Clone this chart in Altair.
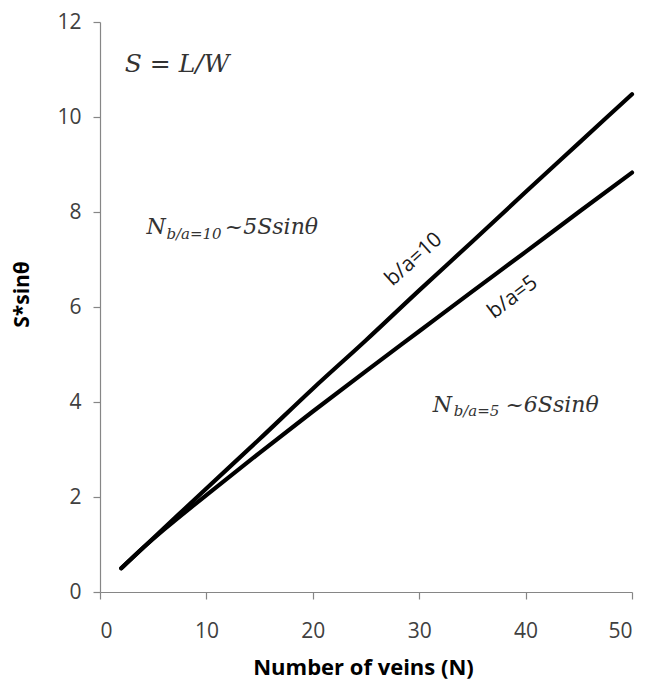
import altair as alt
import pandas as pd

# ---- data ----
veins = [2, 4, 6, 10, 15, 20, 25, 30, 35, 40, 45, 50]
s_ba10 = [0.5, 0.92, 1.34, 2.18, 3.22, 4.28, 5.30, 6.35, 7.38, 8.42, 9.45, 10.48]
s_ba5 = [0.5, 0.92, 1.31, 2.04, 2.93, 3.80, 4.65, 5.49, 6.33, 7.16, 8.00, 8.83]

x_ticks = [0, 10, 20, 30, 40, 50]
y_ticks = [0, 2, 4, 6, 8, 10, 12]

line_labels = ["b/a=10", "b/a=5"]
line_label_x = [29.5, 38.8]
line_label_y = [7.0, 6.2]

# formula pieces
main_text = ["S = L/W"]
main_x = [2.33]
main_y = [10.94]

big_text = ["N", "~5Ssinθ", "N", "~6Ssinθ"]
big_x = [4.38, 11.73, 31.28, 38.1]
big_y = [7.54, 7.54, 3.79, 3.79]

sub_text = ["b/a=10", "b/a=5"]
sub_x = [6.24, 33.24]
sub_y = [7.44, 3.71]

df = pd.concat([
    pd.DataFrame({"N": veins, "S": s_ba10, "series": "b/a=10"}),
    pd.DataFrame({"N": veins, "S": s_ba5, "series": "b/a=5"}),
])

xs = alt.Scale(domain=[0, 50], nice=False, zero=False)
ys = alt.Scale(domain=[0, 12], nice=False, zero=False)

axis_common = dict(
    grid=False,
    domainColor="#868686",
    tickColor="#868686",
    domainWidth=1.2,
    tickWidth=1.2,
    tickSize=7,
    labelColor="#404040",
    labelFont="Open Sans",
    labelFontSize=21,
    titleFont="Open Sans",
    titleFontWeight="bold",
    titleColor="#000000",
)

x_axis = alt.Axis(
    values=x_ticks,
    title="Number of veins (N)",
    titleFontSize=22,
    labelPadding=21,
    titleX=263,
    titleY=82,
    titleAlign="center",
    titleBaseline="alphabetic",
    **axis_common,
)
y_axis = alt.Axis(
    values=y_ticks,
    title="S*sinθ",
    titleFontSize=21,
    labelPadding=12,
    titleX=-78,
    titleY=272,
    titleAngle=270,
    titleAlign="center",
    titleBaseline="middle",
    **axis_common,
)

lines = alt.Chart(df).mark_line(
    color="black", strokeWidth=4.2, strokeCap="round", interpolate="monotone"
).encode(
    x=alt.X("N:Q", scale=xs, axis=x_axis),
    y=alt.Y("S:Q", scale=ys, axis=y_axis),
    detail="series:N",
)

lbl_df = pd.DataFrame({"t": line_labels, "x": line_label_x, "y": line_label_y})
lbl10 = alt.Chart(lbl_df.iloc[[0]]).mark_text(
    font="Open Sans", fontSize=21, color="#1a1a1a", angle=318,
    align="center", baseline="middle",
).encode(x=alt.X("x:Q", scale=xs), y=alt.Y("y:Q", scale=ys), text="t:N")
lbl5 = alt.Chart(lbl_df.iloc[[1]]).mark_text(
    font="Open Sans", fontSize=21, color="#1a1a1a", angle=323,
    align="center", baseline="middle",
).encode(x=alt.X("x:Q", scale=xs), y=alt.Y("y:Q", scale=ys), text="t:N")

main_df = pd.DataFrame({"t": main_text, "x": main_x, "y": main_y})
main_mark = alt.Chart(main_df).mark_text(
    font="DejaVu Serif", fontStyle="italic", fontSize=25, color="#333333",
    align="left", baseline="alphabetic",
).encode(x=alt.X("x:Q", scale=xs), y=alt.Y("y:Q", scale=ys), text="t:N")

big_df = pd.DataFrame({"t": big_text, "x": big_x, "y": big_y})
big_mark = alt.Chart(big_df).mark_text(
    font="DejaVu Serif", fontStyle="italic", fontSize=22, color="#333333",
    align="left", baseline="alphabetic",
).encode(x=alt.X("x:Q", scale=xs), y=alt.Y("y:Q", scale=ys), text="t:N")

sub_df = pd.DataFrame({"t": sub_text, "x": sub_x, "y": sub_y})
sub_mark = alt.Chart(sub_df).mark_text(
    font="DejaVu Serif", fontStyle="italic", fontSize=15, color="#333333",
    align="left", baseline="alphabetic",
).encode(x=alt.X("x:Q", scale=xs), y=alt.Y("y:Q", scale=ys), text="t:N")

chart = alt.layer(lines, lbl10, lbl5, main_mark, big_mark, sub_mark).properties(
    width=532,
    height=570,
    autosize=alt.AutoSizeParams(type="none"),
    padding={"left": 92, "top": 14, "right": 12, "bottom": 88},
    background="white",
).configure_view(stroke=None)

chart.save("out.html", embed_options={"renderer": "svg", "actions": False})
